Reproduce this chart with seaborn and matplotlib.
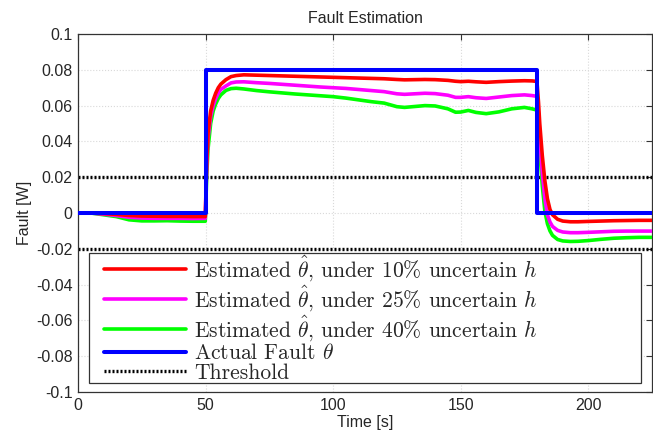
import numpy as np
import pandas as pd
import matplotlib
matplotlib.use("Agg")
import matplotlib.pyplot as plt
from matplotlib.lines import Line2D
from matplotlib.legend_handler import HandlerLine2D
import seaborn as sns

# Time samples [s]
time = [0, 5, 10, 15, 20, 25, 30, 35, 40, 45, 49.9,
        50.5, 51, 52, 53, 54, 55, 56, 58, 60, 62, 65, 70, 75, 80, 85, 90, 95,
        100, 105, 110, 115, 120, 125, 128, 132, 136, 140, 145, 148, 150, 153,
        156, 160, 165, 170, 175, 178, 179.9,
        180.5, 181, 182, 183, 184, 185, 186, 188, 190, 193, 196, 200, 205,
        210, 215, 220, 225]

# Estimated fault under 10% uncertainty
est_10 = [0, 0, -0.0003, -0.0008, -0.0014, -0.0017, -0.0018, -0.0019, -0.0019, -0.002, -0.002,
          0.030, 0.045, 0.057, 0.063, 0.067, 0.070, 0.072, 0.0745, 0.0762, 0.0768, 0.0772,
          0.0770, 0.0768, 0.0766, 0.0764, 0.0762, 0.0760,
          0.0758, 0.0756, 0.0754, 0.0752, 0.0750, 0.0746, 0.0744, 0.0745, 0.0746, 0.0745,
          0.0741, 0.0736, 0.0734, 0.0736, 0.0733, 0.0730, 0.0734, 0.0737, 0.0739, 0.0738, 0.0735,
          0.062, 0.050, 0.032, 0.018, 0.008, 0.002, -0.001, -0.0035, -0.0045, -0.0049,
          -0.0049, -0.0047, -0.0045, -0.0043, -0.0042, -0.0041, -0.0041]

# Estimated fault under 25% uncertainty
est_25 = [0, 0, -0.0006, -0.0014, -0.0024, -0.0028, -0.0030, -0.0030, -0.0030, -0.0031, -0.0030,
          0.028, 0.042, 0.054, 0.060, 0.064, 0.067, 0.069, 0.071, 0.0727, 0.0732, 0.0733,
          0.0728, 0.0724, 0.0719, 0.0714, 0.0709, 0.0704,
          0.0700, 0.0696, 0.0690, 0.0684, 0.0678, 0.0666, 0.0663, 0.0666, 0.0669, 0.0667,
          0.0658, 0.0646, 0.0646, 0.0650, 0.0644, 0.0640, 0.0648, 0.0656, 0.0660, 0.0656, 0.0652,
          0.055, 0.042, 0.022, 0.008, -0.001, -0.005, -0.0075, -0.0097, -0.0106, -0.0110,
          -0.0110, -0.0108, -0.0105, -0.0102, -0.0101, -0.0101, -0.0101]

# Estimated fault under 40% uncertainty
est_40 = [0, 0, -0.0010, -0.0020, -0.0038, -0.0044, -0.0044, -0.0043, -0.0045, -0.0046, -0.0046,
          0.022, 0.036, 0.050, 0.057, 0.061, 0.064, 0.066, 0.0685, 0.0695, 0.0697, 0.0693,
          0.0684, 0.0677, 0.0671, 0.0665, 0.0660, 0.0655,
          0.0650, 0.0642, 0.0632, 0.0622, 0.0614, 0.0594, 0.0590, 0.0595, 0.0600, 0.0598,
          0.0582, 0.0563, 0.0564, 0.0573, 0.0562, 0.0555, 0.0565, 0.0582, 0.0590, 0.0582, 0.0575,
          0.048, 0.035, 0.015, 0.001, -0.006, -0.010, -0.0125, -0.0148, -0.0156, -0.0159,
          -0.0158, -0.0154, -0.0147, -0.0141, -0.0138, -0.0136, -0.0136]

# Actual fault profile
fault_time = [0, 50, 50, 180, 180, 225]
fault_value = [0, 0, 0.08, 0.08, 0, 0]

# Detection threshold
threshold = [0.02, -0.02]

x_ticks = [0, 50, 100, 150, 200]
y_ticks = [0.1, 0.08, 0.06, 0.04, 0.02, 0, -0.02, -0.04, -0.06, -0.08, -0.1]
y_tick_labels = ["0.1", "0.08", "0.06", "0.04", "0.02", "0",
                 "-0.02", "-0.04", "-0.06", "-0.08", "-0.1"]

labels = [
    r"Estimated $\hat{\theta}$, under 10% uncertain $h$",
    r"Estimated $\hat{\theta}$, under 25% uncertain $h$",
    r"Estimated $\hat{\theta}$, under 40% uncertain $h$",
    r"Actual Fault $\theta$",
    "Threshold",
]

sns.set_style("white")
plt.rcParams["font.family"] = ["Liberation Sans", "DejaVu Sans"]
plt.rcParams["mathtext.fontset"] = "cm"
plt.rcParams["axes.unicode_minus"] = False

fig = plt.figure(figsize=(6.53, 4.36), dpi=100)
ax = fig.add_axes([0.1194, 0.1009, 0.8791, 0.8211])

est = pd.DataFrame({"t": time, "e10": est_10, "e25": est_25, "e40": est_40})
fault = pd.DataFrame({"t": fault_time, "v": fault_value})

lw = 2.6
sns.lineplot(data=est, x="t", y="e10", color="#ff0000", lw=lw, sort=False,
             estimator=None, label=labels[0], ax=ax, zorder=5)
sns.lineplot(data=est, x="t", y="e25", color="#ff00ff", lw=lw, sort=False,
             estimator=None, label=labels[1], ax=ax, zorder=4)
sns.lineplot(data=est, x="t", y="e40", color="#00ff00", lw=lw, sort=False,
             estimator=None, label=labels[2], ax=ax, zorder=3)
sns.lineplot(data=fault, x="t", y="v", color="#0000ff", lw=2.9, sort=False,
             estimator=None, label=labels[3], ax=ax, zorder=6)
for i, th in enumerate(threshold):
    ax.axhline(th, color="black", lw=2.4, ls=(0, (0.6, 0.6)), zorder=2,
               label=labels[4] if i == 0 else None)

ax.set_xlim(0, 225)
ax.set_ylim(-0.1, 0.1)
ax.set_xticks(x_ticks)
ax.set_yticks(y_ticks)
ax.set_yticklabels(y_tick_labels)
ax.tick_params(direction="in", top=True, right=True, labelsize=11.5,
               length=4, width=0.8, color="#333333", pad=4)
ax.grid(True, color="#d9d9d9", ls=":", lw=0.8)
for s in ax.spines.values():
    s.set_color("#333333")
    s.set_linewidth(0.9)

ax.set_title("Fault Estimation", fontsize=11.5, pad=8)
ax.set_xlabel("Time [s]", fontsize=11.5, labelpad=2)
ax.set_ylabel("Fault [W]", fontsize=11.5, labelpad=3)

leg = ax.legend(loc="lower left", bbox_to_anchor=(0.019, 0.025, 0.962, 0.36),
                mode="expand", frameon=True, fancybox=False, framealpha=1,
                edgecolor="#333333", prop={"family": "cmr10", "size": 15.5},
                handlelength=4.47, handletextpad=0.4, labelspacing=0.0,
                borderpad=0.02, borderaxespad=0,
                handler_map={Line2D: HandlerLine2D(xpad=0.7)})
leg.get_frame().set_linewidth(0.9)

fig.savefig("out.png", dpi=100)
